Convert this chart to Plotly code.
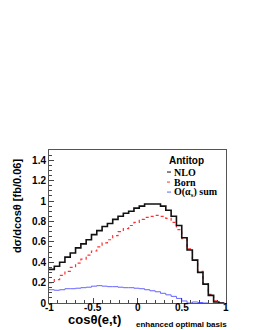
import plotly.graph_objects as go

# bin edges: width 0.06 starting at -1
bin_width = 0.06
n_bins = 33
edges = [round(-1 + bin_width * k, 4) for k in range(n_bins + 1)]

nlo = [0.33, 0.36, 0.40, 0.45, 0.49, 0.54, 0.58, 0.62, 0.67, 0.71, 0.75,
       0.78, 0.82, 0.85, 0.88, 0.90, 0.93, 0.95, 0.97, 0.97, 0.97, 0.95,
       0.91, 0.85, 0.76, 0.64, 0.52, 0.42, 0.30, 0.185, 0.075, 0.01, 0.0]
born = [0.20, 0.23, 0.27, 0.31, 0.35, 0.39, 0.43, 0.47, 0.51, 0.55, 0.59,
        0.62, 0.66, 0.70, 0.73, 0.76, 0.79, 0.82, 0.84, 0.85, 0.86, 0.85,
        0.83, 0.79, 0.72, 0.63, 0.53, 0.42, 0.31, 0.19, 0.085, 0.02, 0.0]
alphas = [0.13, 0.125, 0.13, 0.14, 0.14, 0.145, 0.15, 0.155, 0.165, 0.17,
          0.165, 0.16, 0.16, 0.155, 0.15, 0.15, 0.145, 0.14, 0.13, 0.12,
          0.11, 0.095, 0.08, 0.065, 0.045, 0.02, 0.0, 0.01, 0.005, 0.0,
          -0.005, -0.005, 0.0]

x_ticks = [-1, -0.5, 0, 0.5, 1]
x_ticklabels = ["-1", "-0.5", "0", "0.5", "1"]
y_ticks = [0, 0.2, 0.4, 0.6, 0.8, 1.0, 1.2, 1.4]
y_ticklabels = ["0", "0.2", "0.4", "0.6", "0.8", "1", "1.2", "1.4"]

legend_title = "Antitop"
legend_names = ["NLO", "Born", "O(α<sub>s</sub>) sum"]


def step(vals):
    return edges, list(vals) + [vals[-1]]


fig = go.Figure()
series = [
    (alphas, dict(color="#6464ff", width=1)),
    (born, dict(color="#ff3030", width=1.2, dash="dot")),
    (nlo, dict(color="#111111", width=1.6)),
]
for vals, ln in series:
    xs, ys = step(vals)
    fig.add_trace(go.Scatter(x=xs, y=ys, mode="lines", line=dict(shape="hv", **ln),
                             showlegend=False, hoverinfo="skip"))

# page body has an 8px margin; compensate so the figure fills the window
OFF = 8
W, H = 255 - OFF, 330 - OFF
# target plot area in window pixels
L, R, T, B = 49, 226, 150, 302.7


def px(x):
    return (x - L) / (R - L)


def py(y):
    return (B - y) / (B - T)


tickfont = dict(family="Liberation Sans, Arial", size=10, color="black", weight="bold")
fig.update_layout(
    width=W, height=H,
    margin=dict(l=L - OFF, r=255 - R, t=T - OFF, b=330 - B),
    paper_bgcolor="white", plot_bgcolor="white",
    xaxis=dict(range=[-1, 1], tickvals=x_ticks, showticklabels=False,
               ticks="inside", ticklen=5, tickcolor="#444", tickwidth=1,
               minor=dict(dtick=0.1, ticks="inside", ticklen=3, tickcolor="#444"),
               showgrid=False, zeroline=False, showline=True, linecolor="#555",
               linewidth=1, mirror=True),
    yaxis=dict(range=[0, 1.5], tickvals=y_ticks, ticktext=y_ticklabels,
               ticks="inside", ticklen=5, tickcolor="#444", tickwidth=1,
               minor=dict(dtick=0.05, ticks="inside", ticklen=3, tickcolor="#444"),
               showgrid=False, zeroline=False, showline=True, linecolor="#555",
               linewidth=1, mirror=True, tickfont=tickfont),
)

ann = []
# x tick labels placed just under the axis (ROOT style)
for tv, tl in zip(x_ticks, x_ticklabels):
    ann.append(dict(text=tl, x=tv, xref="x", y=py(307.5), yref="paper",
                    xanchor="center", yanchor="middle", showarrow=False, font=tickfont))
# axis titles
ann.append(dict(text="cosθ(e,t)", x=px(66), y=py(319), xref="paper", yref="paper",
                xanchor="left", yanchor="middle", showarrow=False,
                font=dict(family="Liberation Sans, Arial", size=13, color="black", weight="bold")))
ann.append(dict(text="enhanced optimal basis", x=px(134), y=py(324), xref="paper", yref="paper",
                xanchor="left", yanchor="middle", showarrow=False,
                font=dict(family="Liberation Sans, Arial", size=8, color="black", weight="bold")))
ann.append(dict(text="dσ/dcosθ [fb/0.06]", x=px(17), y=py(206), xref="paper", yref="paper",
                xanchor="center", yanchor="middle", showarrow=False, textangle=-90,
                font=dict(family="Liberation Sans, Arial", size=11, color="black", weight="bold")))
# legend
ann.append(dict(text=legend_title, x=px(167), y=py(160), xref="paper", yref="paper",
                xanchor="left", yanchor="middle", showarrow=False,
                font=dict(family="Liberation Sans, Arial", size=10, color="black", weight="bold")))
leg_y = [172, 182, 192]
leg_styles = [dict(color="#111111", width=1), dict(color="#ff3030", width=1, dash="dot"),
              dict(color="#6464ff", width=1)]
shapes = []
for name, yy, st in zip(legend_names, leg_y, leg_styles):
    ann.append(dict(text=name, x=px(172), y=py(yy), xref="paper", yref="paper",
                    xanchor="left", yanchor="middle", showarrow=False,
                    font=dict(family="Liberation Serif, Times New Roman", size=10,
                              color="black", weight="bold")))
    shapes.append(dict(type="line", xref="paper", yref="paper", x0=px(167), x1=px(171),
                       y0=py(yy), y1=py(yy), line=st))
fig.update_layout(annotations=ann, shapes=shapes)

fig.write_html("out.html")
